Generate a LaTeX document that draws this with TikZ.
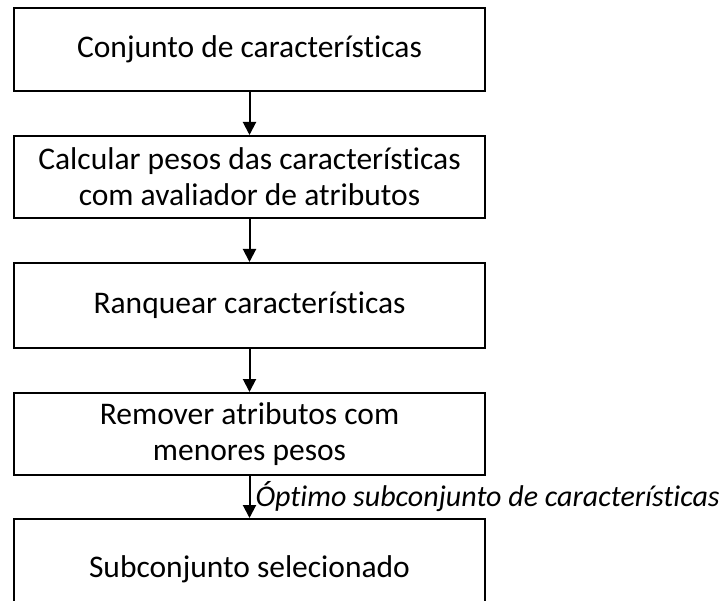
\documentclass[tikz,border=0pt]{standalone}
\usepackage{fontspec}
\setmainfont[Ligatures=NoCommon]{Carlito}
\usetikzlibrary{arrows.meta}
\tikzset{
    etapa/.style={draw, line width=2pt, minimum width=471pt, minimum height=83pt, inner sep=0pt, align=center, font=\fontsize{31.5}{36}\selectfont},
    seta/.style={line width=2pt, -{Triangle[width=13pt,length=13pt]}},
    rotulo/.style={right, inner sep=5pt, font=\fontsize{30}{34}\selectfont\itshape}
}
\begin{document}
\begin{tikzpicture}[x=1pt, y=1pt]
    \useasboundingbox (0,0) rectangle (722,-601);
    \clip (0,0) rectangle (722,-601);
    % etapas
    \node[etapa] (conj) at (249.5,-49.5) {Conjunto de características};
    \node[etapa, minimum height=82pt] (calc) at (249.5,-177) {Calcular pesos das características\\com avaliador de atributos};
    \node[etapa, minimum height=85pt] (rank) at (249.5,-305.5) {Ranquear características};
    \node[etapa, minimum height=82pt] (rem) at (249.5,-434) {Remover atributos com\\menores pesos};
    \node[etapa, minimum height=100pt] (sub) at (249.5,-569) {Subconjunto selecionado};
    % ligacoes
    \draw[seta] (conj) -- (calc);
    \draw[seta] (calc) -- (rank);
    \draw[seta] (rank) -- (rem);
    \draw[seta] (rem) -- node[rotulo]{Óptimo subconjunto de características} (sub);
\end{tikzpicture}
\end{document}
